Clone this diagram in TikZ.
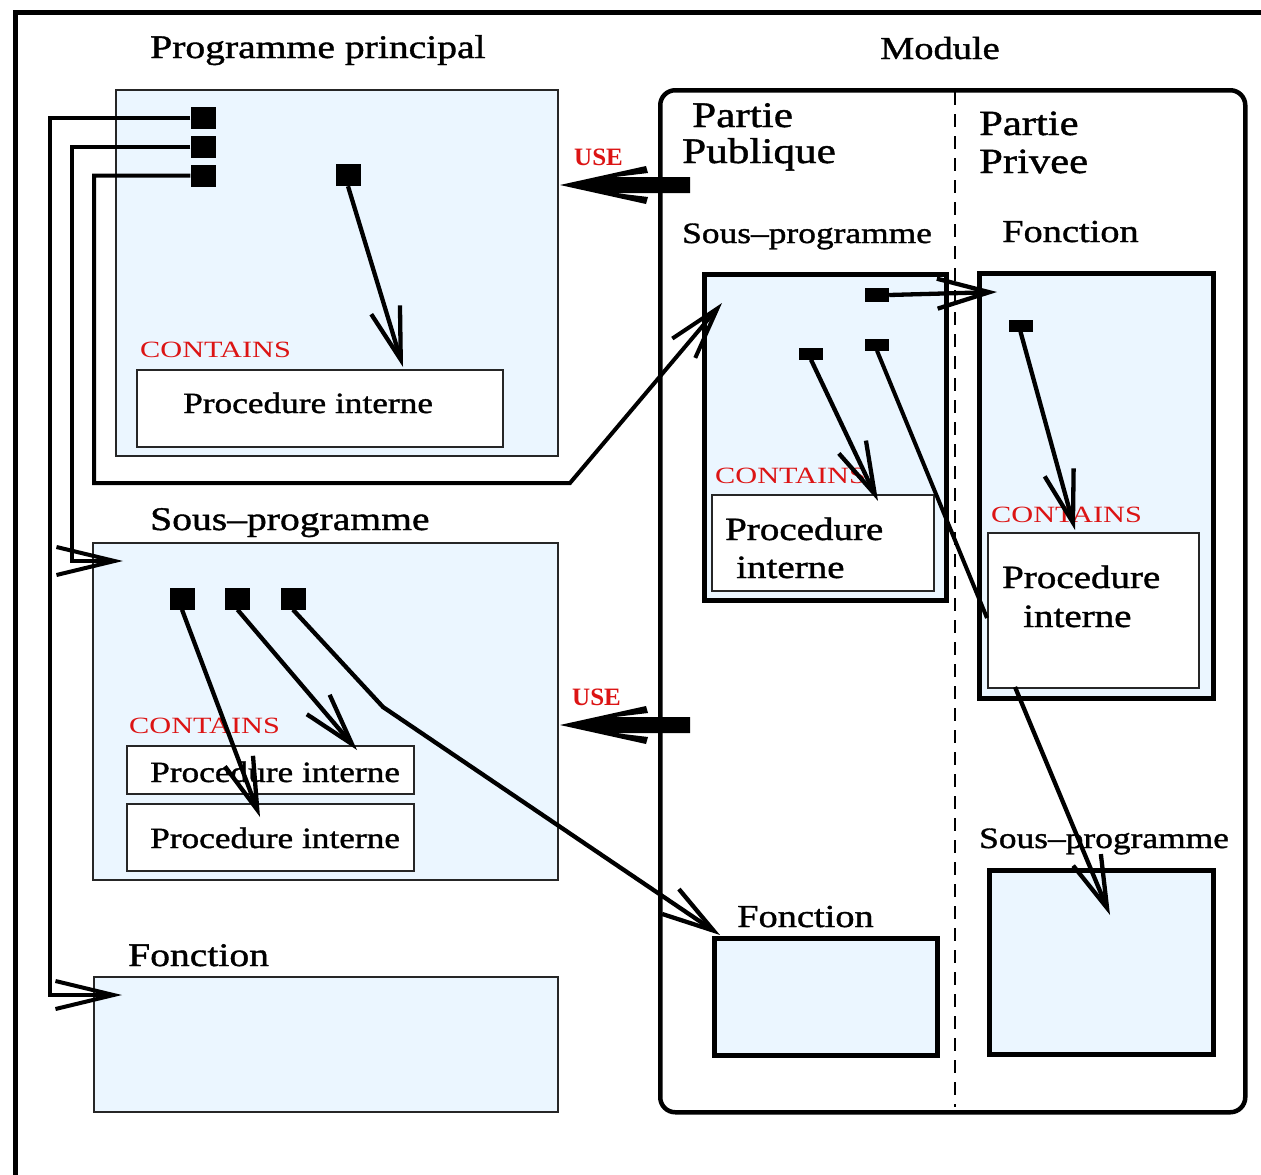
\documentclass[tikz,border=0pt]{standalone}
\usepackage{fontspec}
\setmainfont[FakeStretch=1.2,FakeBold=1.2]{Liberation Serif}
\newfontfamily\contfam[FakeStretch=1.3]{Liberation Serif}
\newfontfamily\usefam{Liberation Serif}
\usetikzlibrary{arrows.meta}
\definecolor{lb}{RGB}{235,246,255}
\definecolor{rd}{RGB}{220,20,20}
\newcommand\fsz[1]{\fontsize{#1}{#1}\selectfont}
\begin{document}
\begin{tikzpicture}[x=1pt,y=-1pt,
  txt/.style={anchor=base west, inner sep=0pt},
  ctxt/.style={anchor=base west, inner sep=0pt, text=rd, font=\contfam\fsz{23.3}},
  utxt/.style={anchor=base west, inner sep=0pt, text=rd, font=\usefam\bfseries\fsz{25}},
  bbox/.style={draw=black!85, line width=2pt, fill=lb, inner sep=0pt, anchor=north west},
  tbox/.style={draw=black, line width=4.5pt, fill=lb, inner sep=0pt, anchor=north west},
  wbox/.style={draw=black!85, line width=2pt, fill=white, inner sep=0pt, anchor=north west},
  sq/.style={fill=black, inner sep=0pt, minimum width=25pt, minimum height=22pt},
  fsq/.style={fill=black, inner sep=0pt, minimum width=24pt, minimum height=12pt},
  route/.style={line width=4pt},
  arr/.style={line width=4.3pt, -{Straight Barb[length=52pt,width=30pt]}},
  usearr/.pic={\fill (0,0) -- (86,-19) -- (88,-12) -- (55,-8) -- (130,-8) -- (130,8) -- (55,8) -- (88,12) -- (86,19) -- cycle;}
]
\useasboundingbox (0,0) rectangle (1261,1175);
\fill[white] (0,0) rectangle (1261,1175);
% outer frame (cropped)
\coordinate (fb) at (15.5,1180);
\coordinate (fc) at (15.5,12.5);
\coordinate (fr) at (1266,12.5);
\draw[line width=5.5pt] (fb) -- (fc) -- (fr);

% ---------------- Programme principal ----------------
\node[txt, font=\fsz{33}] (tpp) at (150,58) {Programme principal};
\node[bbox, minimum width=442pt, minimum height=366pt] (pp) at (115,89) {};
\node[ctxt] (c1) at (140,357) {CONTAINS};
\node[wbox, minimum width=366pt, minimum height=77pt] (p1) at (136,369) {};
\node[txt, font=\fsz{29.4}] (p1t) at (183,413) {Procedure interne};
\node[sq] (s1) at (203,117.5) {};
\node[sq] (s2) at (203,147) {};
\node[sq] (s3) at (203,175.5) {};
\node[sq] (s4) at (348,175) {};

% ---------------- Sous-programme ----------------
\node[txt, font=\fsz{33}] (tsp) at (150,530) {Sous–programme};
\node[bbox, minimum width=465pt, minimum height=337pt] (sp) at (92,542) {};
\node[ctxt] (c2) at (129,733) {CONTAINS};
\node[wbox, minimum width=287pt, minimum height=48pt] (q1) at (126,745) {};
\node[wbox, minimum width=287pt, minimum height=67pt] (q2) at (126,803) {};
\node[txt, font=\fsz{29.4}] (q1t) at (150,782) {Procedure interne};
\node[txt, font=\fsz{29.4}] (q2t) at (150,848) {Procedure interne};
\node[sq] (t1) at (182,598.5) {};
\node[sq] (t2) at (237.5,598.5) {};
\node[sq] (t3) at (293,598.5) {};

% ---------------- Fonction ----------------
\node[txt, font=\fsz{33}] (tfn) at (128,966) {Fonction};
\node[bbox, minimum width=464pt, minimum height=135pt] (fn) at (93,976) {};

% ---------------- Module ----------------
\node[txt, font=\fsz{32}] (tmod) at (880,59) {Module};
\node[draw, line width=4.5pt, rounded corners=15pt, inner sep=0pt, anchor=north west,
      minimum width=585pt, minimum height=1022pt] (mod) at (658,88) {};
\coordinate (dtop) at (955,92);
\coordinate (dbot) at (955,1107);
\draw[line width=2pt, dash pattern=on 13pt off 9pt] (dtop) -- (dbot);
\node[txt, font=\fsz{36}] (pa1) at (692,127) {Partie};
\node[txt, font=\fsz{36}] (pa2) at (682,163) {Publique};
\node[txt, font=\fsz{35.5}] (pb1) at (979,135) {Partie};
\node[txt, font=\fsz{35.5}] (pb2) at (979,173) {Privee};

% USE arrows
\node[utxt] (use1) at (574,165) {USE};
\node[utxt] (use2) at (572,705) {USE};
\coordinate (ua) at (560,185);
\coordinate (ub) at (560,725);
\pic at (ua) {usearr};
\pic at (ub) {usearr};

% module sous-programme
\node[txt, font=\fsz{29.5}] (tmsp) at (682,243) {Sous–programme};
\node[tbox, minimum width=242pt, minimum height=326pt] (msp) at (702,272) {};
\node[ctxt] (c3) at (715,483) {CONTAINS};
\node[wbox, minimum width=222pt, minimum height=96pt] (mp) at (711,494) {};
\node[txt, font=\fsz{32.5}] (mpt1) at (725,540) {Procedure};
\node[txt, font=\fsz{32.5}] (mpt2) at (736,578) {interne};
\node[fsq, minimum height=14pt] (m1) at (877,295) {};
\node[fsq] (m2) at (811,353.5) {};
\node[fsq] (m3) at (877,344.5) {};

% module fonction (public)
\node[txt, font=\fsz{32}] (tmfn) at (737,927) {Fonction};
\node[tbox, minimum width=223pt, minimum height=117pt] (mfn) at (712,936) {};

% private fonction
\node[txt, font=\fsz{32}] (tpfn) at (1002,242) {Fonction};
\node[tbox, minimum width=234pt, minimum height=425pt] (pfn) at (977,271) {};
\node[ctxt] (c4) at (991,522) {CONTAINS};
\node[wbox, minimum width=211pt, minimum height=155pt] (pp2) at (987,532) {};
\node[txt, font=\fsz{32.5}] (ppt1) at (1002,588) {Procedure};
\node[txt, font=\fsz{32.5}] (ppt2) at (1023,627) {interne};
\node[fsq] (f1) at (1020.5,325.5) {};

% private sous-programme
\node[txt, font=\fsz{29.5}] (tpsp) at (979,848) {Sous–programme};
\node[tbox, minimum width=224pt, minimum height=184pt] (psp) at (987,868) {};

% ---------------- connectors ----------------
\coordinate (k1) at (50,995);
\coordinate (e1) at (122,995);
\draw[route, -{Straight Barb[length=58pt,width=28pt]}] (s1.west) -| (k1) -- (e1);
\coordinate (k2) at (72,561);
\coordinate (e2) at (123,561);
\draw[route, -{Straight Barb[length=58pt,width=28pt]}] (s2.west) -| (k2) -- (e2);
\coordinate (k3) at (94,483);
\coordinate (k4) at (570,483);
\coordinate (e3) at (722,303);
\draw[route, -{Straight Barb[length=52pt,width=30pt]}] (s3.west) -| (k3) -- (k4) -- (e3);

\coordinate (e4) at (403,367);
\draw[arr] (s4.south) -- (e4);

\coordinate (e5) at (260,817);
\draw[arr] (t1.south) -- (e5);
\coordinate (e6) at (357,750);
\draw[arr] (t2.south) -- (e6);
\coordinate (k5) at (383,707);
\coordinate (e7) at (720,935);
\draw[arr] (t3.south) -- (k5) -- (e7);

\coordinate (e8) at (997,292);
\draw[arr] (m1.east) -- (e8);
\coordinate (e9) at (878,501);
\draw[arr] (m2.south) -- (e9);
\coordinate (e10) at (987,618);
\draw[route] (m3.south) -- (e10);

\coordinate (e11) at (1075,530);
\draw[arr] (f1.south) -- (e11);
\coordinate (st12) at (1015,687);
\coordinate (e12) at (1110,915);
\draw[arr] (st12) -- (e12);
\end{tikzpicture}
\end{document}
